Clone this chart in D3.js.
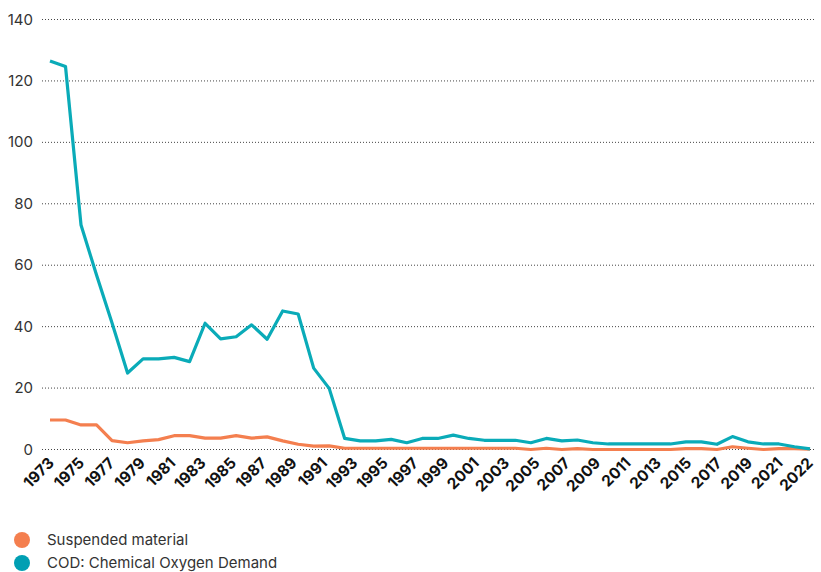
<!DOCTYPE html>
<html>
<head>
<meta charset="utf-8">
<script src="https://cdn.jsdelivr.net/npm/d3@7"></script>
<style>
  body { margin: 0; background: #fff; }
  text { font-family: Inter, "Open Sans", sans-serif; }
</style>
</head>
<body>
<div id="chart"></div>
<script>
// years 1973..2022
const years = [1973,1974,1975,1976,1977,1978,1979,1980,1981,1982,1983,1984,1985,1986,1987,1988,1989,1990,1991,1992,
  1993,1994,1995,1996,1997,1998,1999,2000,2001,2002,2003,2004,2005,2006,2007,2008,2009,2010,2011,2012,
  2013,2014,2015,2016,2017,2018,2019,2020,2021,2022];

const suspended = [9.6,9.6,8.0,8.0,2.9,2.2,2.8,3.2,4.5,4.5,3.7,3.7,4.5,3.7,4.1,2.8,1.7,1.1,1.2,0.4,
  0.4,0.4,0.4,0.4,0.4,0.4,0.4,0.4,0.4,0.4,0.4,0.0,0.4,0.0,0.3,0.0,0.0,0.0,0.0,0.0,
  0.0,0.3,0.3,0.0,0.9,0.4,0.0,0.3,0.3,0.1];

const cod = [126.5,124.7,73.1,56.8,41.2,24.9,29.5,29.5,30.0,28.6,41.1,36.0,36.7,40.6,35.9,45.1,44.1,26.5,19.9,3.6,
  2.8,2.8,3.3,2.2,3.6,3.6,4.7,3.6,3.0,3.0,3.0,2.2,3.6,2.8,3.1,2.2,1.8,1.8,1.8,1.8,
  1.8,2.5,2.5,1.7,4.2,2.5,1.8,1.8,0.9,0.2];

const yTicks = [0,20,40,60,80,100,120,140];
const xTickYears = [1973,1975,1977,1979,1981,1983,1985,1987,1989,1991,1993,1995,1997,1999,2001,2003,2005,2007,2009,2011,2013,2015,2017,2019,2021,2022];

const seriesNames = ['Suspended material', 'COD: Chemical Oxygen Demand'];
const lineColors = ['#f47f4f', '#0aabb8'];
const dotColors = ['#f47f4f', '#009fb3'];

const width = 821, height = 572;

const svg = d3.select('#chart')
  .append('svg')
  .attr('width', width)
  .attr('height', height);

const x = d3.scaleLinear().domain([1973, 2022]).range([50, 810]);
const y = d3.scaleLinear().domain([0, 140]).range([449.5, 19.5]);
// labels sit evenly spaced along the axis
const xLab = d3.scalePoint().domain(xTickYears).range([47, 806]);

// grid
svg.append('g')
  .selectAll('line')
  .data(yTicks)
  .enter()
  .append('line')
  .attr('x1', 42)
  .attr('x2', 816)
  .attr('y1', d => y(d))
  .attr('y2', d => y(d))
  .attr('stroke', '#444')
  .attr('stroke-width', 1)
  .attr('stroke-dasharray', '1,2');

// y labels
svg.append('g')
  .selectAll('text')
  .data(yTicks)
  .enter()
  .append('text')
  .attr('x', 33)
  .attr('y', d => y(d) + 5)
  .attr('text-anchor', 'end')
  .attr('fill', '#333')
  .style('font-size', '15px')
  .text(d => d);

// x labels
svg.append('g')
  .selectAll('text')
  .data(xTickYears)
  .enter()
  .append('text')
  .attr('text-anchor', 'end')
  .attr('transform', d => 'translate(' + (xLab(d) + 8) + ',464) rotate(-45)')
  .attr('fill', '#111')
  .style('font-size', '15.5px')
  .style('font-weight', 700)
  .text(d => d);

// lines
const line = d3.line()
  .x((d, i) => x(years[i]))
  .y(d => y(d));

[suspended, cod].forEach((s, k) => {
  svg.append('path')
    .datum(s)
    .attr('d', line)
    .attr('fill', 'none')
    .attr('stroke', lineColors[k])
    .attr('stroke-width', 3.2)
    .attr('stroke-linejoin', 'round');
});

// legend
const legend = svg.append('g')
  .selectAll('g')
  .data(seriesNames)
  .enter()
  .append('g')
  .attr('transform', (d, i) => 'translate(0,' + (540 + i * 23) + ')');

legend.append('circle')
  .attr('cx', 22)
  .attr('cy', 0)
  .attr('r', 8)
  .attr('fill', (d, i) => dotColors[i]);

legend.append('text')
  .attr('x', 47)
  .attr('y', 5)
  .attr('fill', '#333')
  .style('font-size', '15px')
  .text(d => d);
</script>
</body>
</html>
